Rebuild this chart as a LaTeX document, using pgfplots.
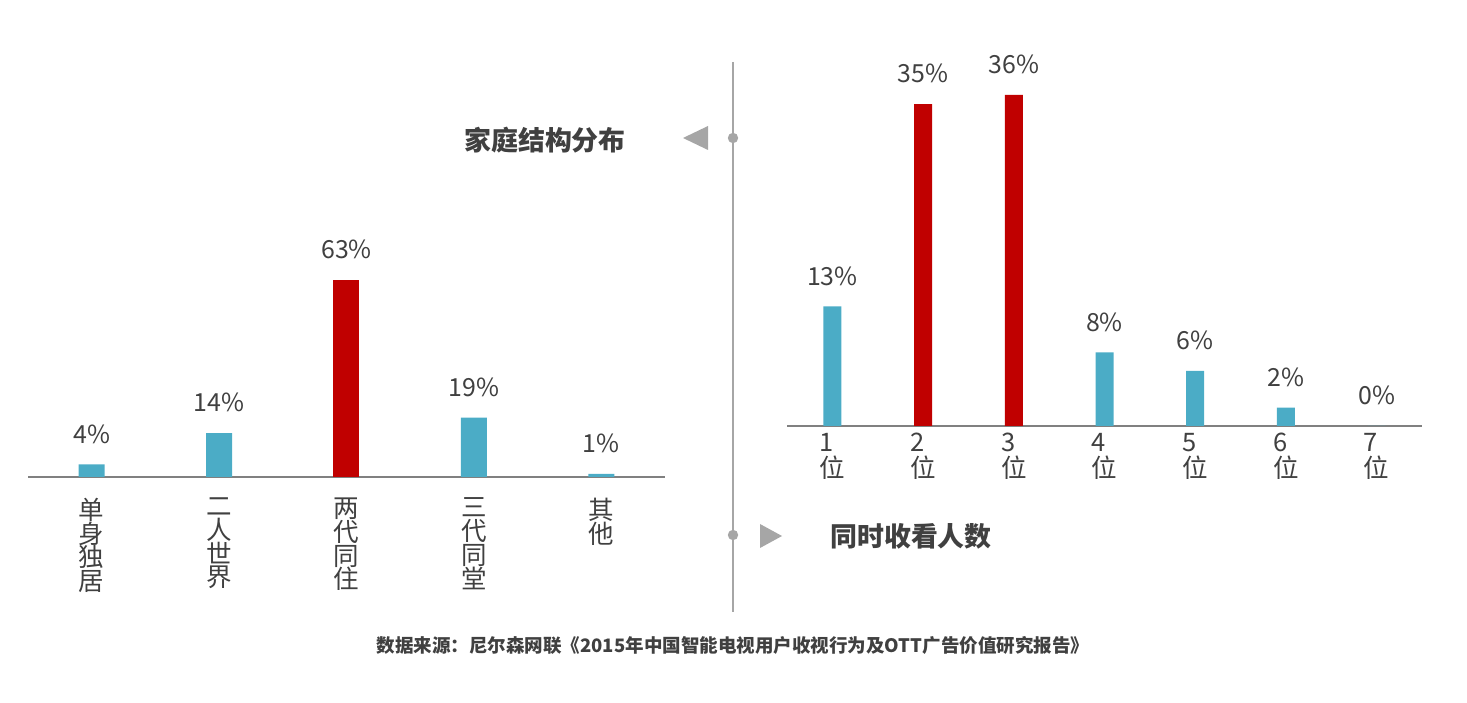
\documentclass[border=0pt]{standalone}
\usepackage{fontspec}
\setmainfont{Noto Sans CJK SC}
\usepackage{pgfplots}
\pgfplotsset{compat=1.18}
\definecolor{barteal}{HTML}{4BACC6}
\definecolor{barred}{HTML}{C00000}
\definecolor{axisgray}{HTML}{808080}
\definecolor{divgray}{HTML}{A6A6A6}
\definecolor{txt}{HTML}{404040}

\pgfplotsset{
  barbase/.style={
    scale only axis,
    clip=false,
    ymin=0,
    axis x line=bottom,
    axis y line=none,
    x axis line style={-, draw=axisgray, line width=1.25bp},
    major tick length=0pt,
    xtick=data,
    /pgf/number format/assume math mode=true,
    nodes near coords={\pgfmathprintnumber{\pgfplotspointmeta}\%},
    every node near coord/.append style={font=\fontsize{12.5}{14}\selectfont, text=txt, yshift=7bp},
  },
}

\begin{document}
\begin{tikzpicture}
\path (0,0) rectangle (733.5bp,351.5bp);

% left: family structure
\begin{axis}[barbase,
  at={(14bp,113bp)}, anchor=south west,
  width=318.5bp, height=109.55bp,
  xmin=-0.5, xmax=4.5, ymax=70,
  xtick={0,1,2,3,4},
  xticklabels={{单\\身\\独\\居},{二\\人\\世\\界},{两\\代\\同\\住},{三\\代\\同\\堂},{其\\他}},
  xticklabel style={align=center, font=\fontsize{12.8}{11.9}\selectfont, text=txt, yshift=-7bp},
  ]
  \addplot[ybar, fill=barteal, draw=none, bar width=13bp, bar shift=0pt]
    coordinates {(0,4) (1,14) (3,19) (4,1)};
  \addplot[ybar, fill=barred, draw=none, bar width=13bp, bar shift=0pt]
    coordinates {(2,63)};
\end{axis}

% right: viewers at once
\begin{axis}[barbase,
  at={(393.5bp,138.5bp)}, anchor=south west,
  width=317.5bp, height=184bp,
  xmin=-0.5, xmax=6.5, ymax=40,
  xtick={0,1,2,3,4,5,6},
  xticklabels={{1\\位},{2\\位},{3\\位},{4\\位},{5\\位},{6\\位},{7\\位}},
  xticklabel style={align=left, font=\fontsize{12.8}{13}\selectfont, text=txt, yshift=0bp},
  ]
  \addplot[ybar, fill=barteal, draw=none, bar width=9bp, bar shift=0pt]
    coordinates {(0,13) (3,8) (4,6) (5,2) (6,0)};
  \addplot[ybar, fill=barred, draw=none, bar width=9bp, bar shift=0pt]
    coordinates {(1,35) (2,36)};
\end{axis}

% divider and markers
\draw[divgray, line width=0.6bp] (366.5bp,320.5bp) -- (366.5bp,45.5bp);
\fill[divgray] (366.5bp,282.5bp) circle (2.6bp);
\fill[divgray] (366.5bp,84bp) circle (2.6bp);
\fill[divgray] (341.5bp,282.5bp) -- (354bp,288.5bp) -- (354bp,276.5bp) -- cycle;
\fill[divgray] (391bp,83.5bp) -- (380bp,89.5bp) -- (380bp,77.5bp) -- cycle;

% titles
\node[text=txt, font=\fontsize{13.5}{15}\selectfont\bfseries] at (272.5bp,281.5bp) {家庭结构分布};
\node[text=txt, font=\fontsize{13.5}{15}\selectfont\bfseries] at (455.5bp,83.5bp) {同时收看人数};

% source
\node[text=txt, font=\fontsize{9.3}{10}\selectfont\bfseries] at (366.5bp,29bp)
  {数据来源：尼尔森网联《2015年中国智能电视用户收视行为及OTT广告价值研究报告》};
\end{tikzpicture}
\end{document}
